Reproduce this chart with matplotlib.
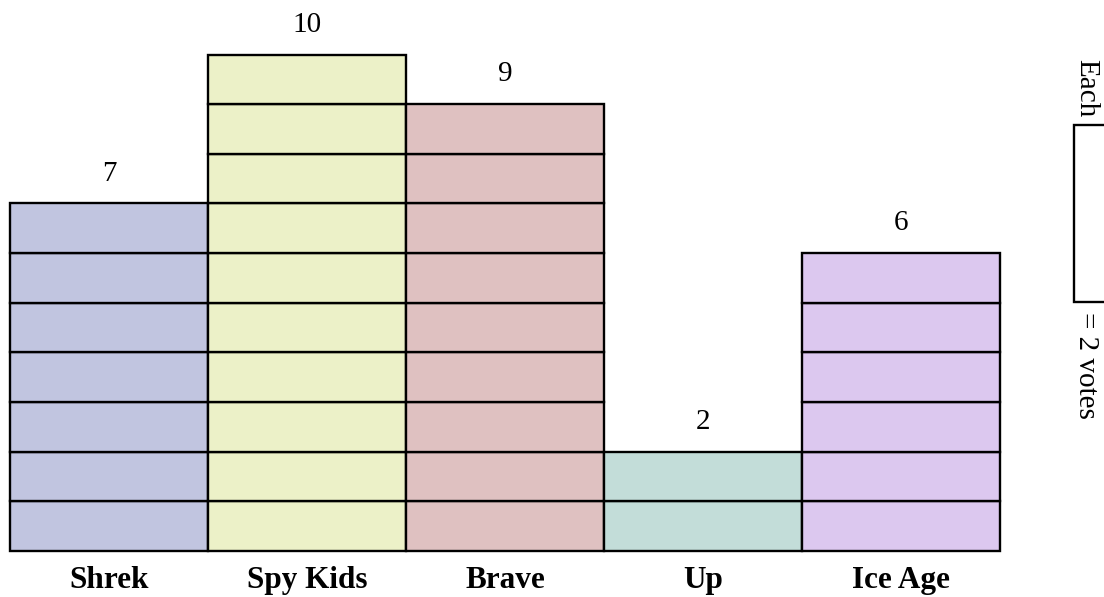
import matplotlib
matplotlib.use("Agg")
import matplotlib.pyplot as plt
from matplotlib.patches import Rectangle

categories = ["Shrek", "Spy Kids", "Brave", "Up", "Ice Age"]
blocks = [7, 10, 9, 2, 6]
colors = ["#c1c5e0", "#ecf1c8", "#dfc1c1", "#c3ddd9", "#dcc8ef"]
legend_pre = "Each"
legend_post = "= 2 votes"

W, H = 1104, 597
fig = plt.figure(figsize=(W / 100, H / 100), dpi=100)
ax = fig.add_axes([0, 0, 1, 1])
bw_px = 198.0
bh_px = 49.65
x0_px = 10.0
base_px = 551.0
ax.set_xlim(-x0_px / bw_px, (W - x0_px) / bw_px)
ax.set_ylim(-(H - base_px) / bh_px, base_px / bh_px)
ax.axis("off")

plt.rcParams["font.family"] = ["Liberation Serif", "DejaVu Serif"]

def px(x, y):
    return (x - x0_px) / bw_px, (base_px - y) / bh_px

for i, (cat, n, c) in enumerate(zip(categories, blocks, colors)):
    for k in range(n):
        ax.add_patch(Rectangle((i, k), 1, 1, facecolor=c, edgecolor="black",
                               linewidth=1.7, zorder=2))
    ax.text(i + 0.5, n + 0.6, str(n), ha="center", va="center",
            fontsize=21, family=["Liberation Serif"])
    ax.text(i + 0.5, -0.6, cat, ha="center", va="center", fontsize=22.5,
            fontweight="bold", family=["Liberation Serif"])

# legend (rotated block)
lx, ly = px(1074, 302)
ax.add_patch(Rectangle((lx, ly), 60 / bw_px, 177 / bh_px, facecolor="white",
                       edgecolor="black", linewidth=1.7, clip_on=False, zorder=2))
tx, ty = px(1086, 88)
ax.text(tx, ty, legend_pre, rotation=-90,
        ha="center", va="center", fontsize=21, family=["Liberation Serif"])
tx, ty = px(1086, 365)
ax.text(tx, ty, legend_post, rotation=-90,
        ha="center", va="center", fontsize=21, family=["Liberation Serif"])

fig.savefig("out.png", dpi=100)
